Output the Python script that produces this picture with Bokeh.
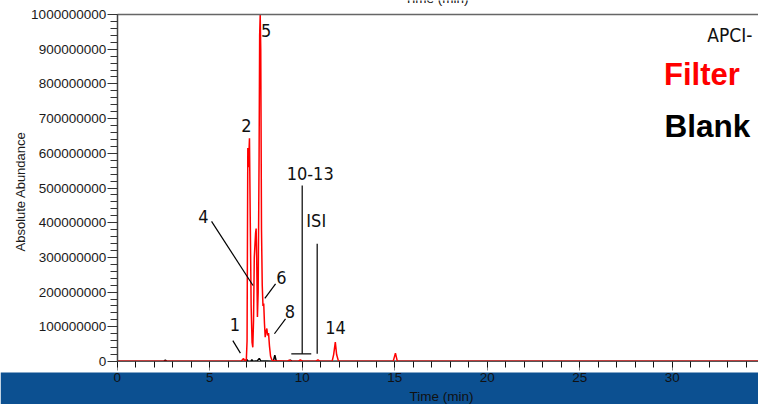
import math
from bokeh.plotting import figure
from bokeh.models import (LinearAxis, SingleIntervalTicker, NumeralTickFormatter, Range1d,
                          BoxAnnotation, Label, ColumnDataSource, FixedTicker)
from bokeh.embed import file_html
from bokeh.resources import INLINE
from bokeh.core.properties import value

# ---------------- data ----------------
filter_time = [0.0, 2.5, 6.70, 6.78, 6.83, 6.88, 6.98, 7.02, 7.06, 7.09, 7.12, 7.15, 7.19,
               7.24, 7.29, 7.33, 7.37, 7.41, 7.45, 7.48, 7.51, 7.54, 7.58, 7.62, 7.67,
               7.70, 7.73, 7.76, 7.80, 7.84, 7.88, 7.92, 7.96, 8.00, 8.04, 8.09, 8.13,
               8.18, 8.23, 8.29, 8.36, 8.50, 9.20, 9.30, 9.40, 9.80, 9.90, 10.00,
               10.75, 10.85, 10.95, 11.62, 11.70, 11.79, 11.86, 11.96, 14.92, 15.04,
               15.14, 34.7]
filter_abund = [1e6, 1e6, 1e6, 6e6, 8e6, 3e6, 4e6, 60e6, 615e6, 560e6, 600e6, 643e6, 420e6,
                160e6, 55e6, 41e6, 120e6, 300e6, 340e6, 370e6, 383e6, 300e6, 128e6, 200e6, 594e6,
                940e6, 1000e6, 900e6, 380e6, 220e6, 160e6, 167e6, 110e6, 70e6, 85e6, 95e6, 75e6,
                82e6, 45e6, 15e6, 4e6, 2e6, 1e6, 4e6, 1e6, 1e6, 5e6, 1e6,
                1e6, 5e6, 1e6, 1e6, 20e6, 56e6, 20e6, 1e6, 1e6, 24e6,
                1e6, 1e6]

blank_time = [0.0, 2.50, 2.60, 2.70, 6.92, 7.00, 7.08, 7.22, 7.28, 7.34, 7.58, 7.68, 7.76,
              8.44, 8.52, 8.60, 9.28, 9.36, 9.44, 34.7]
blank_abund = [0.5e6, 0.5e6, 4e6, 0.5e6, 0.5e6, 6e6, 1e6, 1e6, 5e6, 1e6, 2e6, 9e6, 2e6,
               1e6, 18e6, 1e6, 1e6, 4e6, 1e6, 0.5e6]

peak_names = ["1", "2", "4", "5", "6", "8", "10-13", "ISI", "14"]
peak_name_time = [6.36, 6.98, 4.66, 8.05, 8.87, 9.34, 10.43, 10.76, 11.80]
peak_name_abund = [107e6, 679e6, 418e6, 953e6, 243e6, 144e6, 542e6, 405e6, 97e6]

# callout lines (start time, start abundance, end time, end abundance)
callout_t0 = [6.25, 5.10, 8.56, 9.10, 10.00, 9.41, 10.81]
callout_a0 = [60e6, 404e6, 224e6, 123e6, 507e6, 22e6, 339e6]
callout_t1 = [6.66, 7.34, 7.98, 8.50, 10.00, 10.49, 10.81]
callout_a1 = [24e6, 219e6, 182e6, 80e6, 22e6, 22e6, 22e6]

x_ticks_interval = 5
y_ticks_interval = 100000000

# ---------------- figure ----------------
PX_PER_MIN = 18.5
PX_PER_UNIT = 347 / 1e9
W, H = 758, 404
AXIS_X = 116.7
ZERO_Y = 361
NARROW = "DejaVu Sans Condensed"


def px_x(px):
    return (px - AXIS_X) / PX_PER_MIN


def px_y(py):
    return (ZERO_Y - py) / PX_PER_UNIT


p = figure(width=W, height=H, output_backend="svg", toolbar_location=None,
           x_range=Range1d(px_x(0), px_x(W)), y_range=Range1d(px_y(H), px_y(0)),
           x_axis_location=None, y_axis_location=None,
           min_border_left=0, min_border_top=0,
           min_border_right=0, min_border_bottom=0)
p.grid.visible = False
p.background_fill_color = "white"
p.border_fill_color = "white"
p.outline_line_color = None

# blue band at the bottom
band = BoxAnnotation(top=px_y(372), fill_color="#0c5091", fill_alpha=1.0, line_alpha=0,
                     level="underlay")
p.add_layout(band)

# top frame line
top_axis = LinearAxis(ticker=FixedTicker(ticks=[]), fixed_location=1e9, bounds=(0, 100))
top_axis.axis_line_color = "#666666"
top_axis.axis_line_width = 1.5
top_axis.major_label_text_font_size = "0px"
p.add_layout(top_axis, "above")

# y axis
yaxis = LinearAxis(ticker=SingleIntervalTicker(interval=y_ticks_interval, num_minor_ticks=5),
                   formatter=NumeralTickFormatter(format="0"), bounds=(0, 1e9),
                   fixed_location=0)
yaxis.axis_line_color = "#444444"
yaxis.axis_line_width = 1.5
yaxis.major_tick_out = 10
yaxis.major_tick_in = 0
yaxis.minor_tick_out = 7
yaxis.minor_tick_in = 0
yaxis.major_tick_line_color = "#333333"
yaxis.minor_tick_line_color = "#333333"
yaxis.major_label_standoff = 1
yaxis.major_label_text_font = "Liberation Sans"
yaxis.major_label_text_font_size = "13.5px"
yaxis.major_label_text_color = "#1a1a1a"
p.add_layout(yaxis, "left")

# x axis at zero
xaxis = LinearAxis(ticker=SingleIntervalTicker(interval=x_ticks_interval, num_minor_ticks=5),
                   fixed_location=0, bounds=(0, 40))
xaxis.axis_line_color = "#555555"
xaxis.major_tick_out = 9
xaxis.major_tick_in = 0
xaxis.minor_tick_out = 6
xaxis.minor_tick_in = 0
xaxis.major_tick_line_color = "#888888"
xaxis.minor_tick_line_color = "#111111"
xaxis.major_label_standoff = 2
xaxis.major_label_text_font = "Liberation Sans"
xaxis.major_label_text_font_size = "13.5px"
xaxis.major_label_text_color = "#111111"
p.add_layout(xaxis, "below")

# x axis title inside the band
p.add_layout(Label(x=px_x(441), y=px_y(395.5), text="Time (min)", text_font="Liberation Sans",
                   text_font_size="13.5px", text_align="center", text_baseline="middle",
                   text_color="#111111"))

# traces
p.line(blank_time, blank_abund, line_color="black", line_width=1.5)
p.line(filter_time, filter_abund, line_color="#ff0000", line_width=1.5)

# callouts
cs = ColumnDataSource(dict(x0=callout_t0, y0=callout_a0, x1=callout_t1, y1=callout_a1))
p.segment("x0", "y0", "x1", "y1", source=cs, line_color="black", line_width=1.2)

ls = ColumnDataSource(dict(x=peak_name_time, y=peak_name_abund, t=peak_names))
p.text("x", "y", text="t", source=ls, text_font=value(NARROW),
       text_font_size=value("18px"), text_align="center", text_baseline="middle",
       text_color="#111111")

# right-hand legend texts
p.add_layout(Label(x=px_x(752), y=px_y(34.2), text="APCI-", text_font=NARROW,
                   text_font_size="19px", text_align="right", text_baseline="middle",
                   text_color="#111111"))
p.add_layout(Label(x=px_x(663.5), y=px_y(73.5), text="Filter", text_font="Liberation Sans",
                   text_font_size="31px", text_font_style="bold", text_align="left",
                   text_baseline="middle", text_color="#ff0000"))
p.add_layout(Label(x=px_x(664), y=px_y(125), text="Blank", text_font="Liberation Sans",
                   text_font_size="31.5px", text_font_style="bold", text_align="left",
                   text_baseline="middle", text_color="#000000"))

# y axis title
p.add_layout(Label(x=px_x(20), y=px_y(191), text="Absolute Abundance", angle=math.pi / 2,
                   text_font="Liberation Sans", text_font_size="13px", text_align="center",
                   text_baseline="middle", text_color="#1a1a1a"))

# cropped top axis title
p.add_layout(Label(x=px_x(436), y=px_y(-2.5), text="Time (min)", text_font="Liberation Sans",
                   text_font_size="13.5px", text_align="center", text_baseline="middle",
                   text_color="#111111"))

open("out.html", "w").write(file_html(p, INLINE))
